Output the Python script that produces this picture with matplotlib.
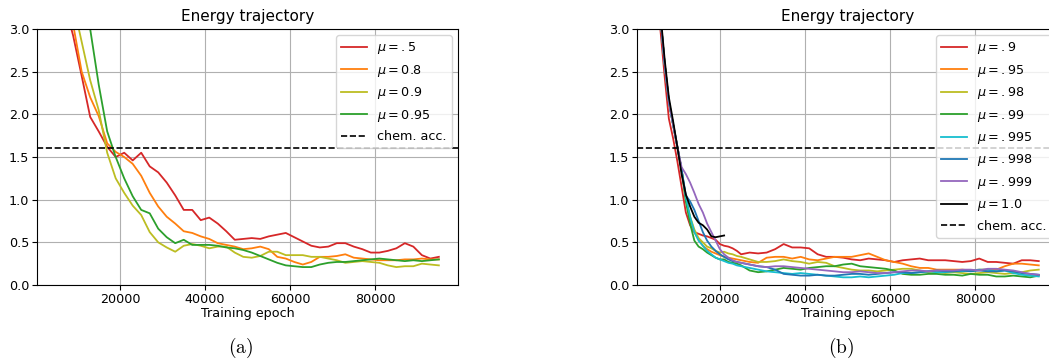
import numpy as np
import matplotlib
matplotlib.use('Agg')
import matplotlib.pyplot as plt


chem_acc = 1.6

# ---- panel (a) ----
epochs_a = list(range(5000, 95001, 2000))
labels_a = [r'$\mu=.5$', r'$\mu=0.8$', r'$\mu=0.9$', r'$\mu=0.95$']
colors_a = ['tab:red', 'tab:orange', 'tab:olive', 'tab:green']

mu_05 = [4.0, 3.3, 2.92, 2.45, 1.97, 1.80, 1.62, 1.50, 1.55, 1.46,
         1.55, 1.39, 1.32, 1.20, 1.05, 0.88, 0.88, 0.76, 0.79, 0.72,
         0.63, 0.53, 0.54, 0.55, 0.54, 0.57, 0.59, 0.61, 0.56, 0.51,
         0.46, 0.44, 0.45, 0.49, 0.49, 0.45, 0.42, 0.38, 0.38, 0.40,
         0.43, 0.49, 0.45, 0.35, 0.31, 0.33]
mu_08 = [4.2, 3.6, 3.05, 2.50, 2.20, 1.98, 1.66, 1.56, 1.50, 1.42,
         1.28, 1.08, 0.92, 0.80, 0.72, 0.63, 0.61, 0.57, 0.54, 0.49,
         0.47, 0.45, 0.42, 0.43, 0.45, 0.42, 0.33, 0.31, 0.27, 0.24,
         0.27, 0.33, 0.33, 0.34, 0.36, 0.32, 0.31, 0.30, 0.29, 0.29,
         0.29, 0.30, 0.30, 0.31, 0.30, 0.30]
mu_09 = [4.6, 3.9, 3.3, 2.85, 2.40, 2.05, 1.55, 1.25, 1.08, 0.93,
         0.82, 0.62, 0.50, 0.44, 0.39, 0.46, 0.48, 0.46, 0.43, 0.45,
         0.45, 0.38, 0.33, 0.32, 0.34, 0.39, 0.39, 0.35, 0.35, 0.35,
         0.33, 0.33, 0.31, 0.29, 0.26, 0.27, 0.28, 0.27, 0.26, 0.23,
         0.21, 0.22, 0.22, 0.25, 0.24, 0.23]
mu_095 = [5.0, 4.3, 3.7, 3.3, 3.0, 2.35, 1.80, 1.50, 1.25, 1.04,
          0.88, 0.84, 0.66, 0.56, 0.49, 0.53, 0.47, 0.47, 0.47, 0.46,
          0.44, 0.43, 0.41, 0.38, 0.34, 0.30, 0.26, 0.23, 0.22, 0.21,
          0.21, 0.24, 0.26, 0.27, 0.27, 0.28, 0.29, 0.30, 0.31, 0.30,
          0.29, 0.28, 0.29, 0.28, 0.29, 0.30]

# ---- panel (b) ----
epochs_b = list(range(5000, 25001, 1000)) + list(range(27000, 95001, 2000))
epochs_b_full = list(range(5000, 21001, 1000))
labels_b = [r'$\mu=.9$', r'$\mu=.95$', r'$\mu=.98$', r'$\mu=.99$',
            r'$\mu=.995$', r'$\mu=.998$', r'$\mu=.999$']
colors_b = ['tab:red', 'tab:orange', 'tab:olive', 'tab:green',
            'tab:cyan', 'tab:blue', 'tab:purple']

mu_09b = [3.5, 3.0, 2.45, 1.95, 1.72, 1.45, 1.15,
          0.85, 0.70, 0.62, 0.60, 0.58, 0.57, 0.55, 0.53, 0.48, 0.46, 0.45, 0.43, 0.40, 0.36,
          0.38, 0.37, 0.38, 0.42, 0.48, 0.44, 0.44, 0.43, 0.36, 0.33, 0.33, 0.32, 0.30, 0.29,
          0.31, 0.30, 0.29, 0.27, 0.29, 0.30, 0.31, 0.29, 0.29, 0.29, 0.28, 0.27, 0.28, 0.31,
          0.27, 0.27, 0.26, 0.25, 0.29, 0.29, 0.28]
mu_095b = [3.6, 3.15, 2.6, 2.15, 1.88, 1.62, 1.35,
           1.00, 0.78, 0.62, 0.53, 0.46, 0.42, 0.39, 0.37, 0.35, 0.33, 0.32, 0.31, 0.30, 0.29,
           0.27, 0.26, 0.32, 0.33, 0.33, 0.31, 0.33, 0.30, 0.29, 0.31, 0.33, 0.33, 0.33, 0.35,
           0.37, 0.33, 0.29, 0.27, 0.25, 0.22, 0.20, 0.20, 0.18, 0.18, 0.18, 0.18, 0.17, 0.18,
           0.18, 0.18, 0.22, 0.25, 0.25, 0.24, 0.23]
mu_098b = [3.6, 3.15, 2.6, 2.15, 1.88, 1.62, 1.35,
           1.02, 0.80, 0.65, 0.55, 0.50, 0.45, 0.43, 0.40, 0.38, 0.39, 0.37, 0.36, 0.34, 0.33,
           0.30, 0.27, 0.27, 0.28, 0.30, 0.28, 0.27, 0.25, 0.27, 0.26, 0.22, 0.20, 0.18, 0.17,
           0.17, 0.16, 0.17, 0.18, 0.19, 0.19, 0.17, 0.15, 0.15, 0.14, 0.15, 0.14, 0.13, 0.14,
           0.15, 0.14, 0.13, 0.14, 0.15, 0.17, 0.18]
mu_099b = [3.6, 3.15, 2.6, 2.15, 1.88, 1.62, 1.35,
           0.98, 0.72, 0.52, 0.45, 0.42, 0.38, 0.35, 0.32, 0.30, 0.30, 0.27, 0.26, 0.25, 0.23,
           0.17, 0.15, 0.16, 0.18, 0.20, 0.19, 0.18, 0.20, 0.21, 0.22, 0.22, 0.24, 0.25, 0.22,
           0.21, 0.20, 0.19, 0.17, 0.13, 0.12, 0.12, 0.13, 0.13, 0.12, 0.12, 0.11, 0.13, 0.12,
           0.12, 0.10, 0.10, 0.11, 0.10, 0.09, 0.11]
mu_0995b = [3.6, 3.15, 2.6, 2.15, 1.88, 1.62, 1.35,
            1.03, 0.80, 0.62, 0.52, 0.46, 0.40, 0.36, 0.32, 0.30, 0.28, 0.26, 0.25, 0.23, 0.22,
            0.20, 0.18, 0.16, 0.15, 0.14, 0.13, 0.14, 0.13, 0.12, 0.11, 0.10, 0.09, 0.09, 0.10,
            0.09, 0.10, 0.11, 0.12, 0.14, 0.14, 0.15, 0.16, 0.15, 0.15, 0.16, 0.16, 0.17, 0.18,
            0.18, 0.16, 0.17, 0.14, 0.12, 0.11, 0.10]
mu_0998b = [3.6, 3.15, 2.6, 2.15, 1.88, 1.62, 1.35,
            1.05, 0.98, 0.88, 0.75, 0.62, 0.52, 0.45, 0.40, 0.36, 0.33, 0.30, 0.28, 0.27, 0.26,
            0.24, 0.22, 0.21, 0.18, 0.13, 0.12, 0.11, 0.11, 0.12, 0.11, 0.11, 0.12, 0.13, 0.13,
            0.12, 0.13, 0.14, 0.15, 0.15, 0.14, 0.15, 0.16, 0.17, 0.16, 0.16, 0.17, 0.16, 0.17,
            0.16, 0.16, 0.17, 0.16, 0.14, 0.13, 0.12]
mu_0999b = [3.6, 3.15, 2.6, 2.15, 1.88, 1.62, 1.38,
            1.30, 1.20, 1.08, 0.95, 0.85, 0.72, 0.62, 0.52, 0.42, 0.36, 0.32, 0.29, 0.27, 0.26,
            0.24, 0.22, 0.21, 0.22, 0.22, 0.21, 0.20, 0.19, 0.18, 0.17, 0.16, 0.15, 0.15, 0.16,
            0.15, 0.14, 0.14, 0.15, 0.16, 0.17, 0.17, 0.16, 0.17, 0.17, 0.17, 0.18, 0.18, 0.17,
            0.19, 0.19, 0.18, 0.17, 0.15, 0.13, 0.12]
mu_1b = [3.6, 3.2, 2.65, 2.2, 1.92, 1.62, 1.30, 1.06, 0.92, 0.80, 0.73, 0.70,
         0.65, 0.57, 0.56, 0.57, 0.58]

FS = 9.2
plt.rcParams['font.size'] = FS


def style_axes(ax):
    ax.axhline(chem_acc, color='k', ls='--', lw=1.2, label='chem. acc.')
    ax.set_ylim(0, 3)
    ax.set_xticks([20000, 40000, 60000, 80000])
    ax.set_yticks([0.0, 0.5, 1.0, 1.5, 2.0, 2.5, 3.0])
    ax.grid(True)
    ax.set_title('Energy trajectory', fontsize=11)
    ax.set_xlabel('Training epoch', fontsize=FS, labelpad=1)
    ax.tick_params(labelsize=FS, length=3.5, pad=2)


fig = plt.figure(figsize=(10.49, 3.62), dpi=100)
ax1 = fig.add_axes([0.0353, 0.2127, 0.4013, 0.7072])
ax2 = fig.add_axes([0.6072, 0.2127, 0.4013, 0.7072])

for y, lab, c in zip([mu_05, mu_08, mu_09, mu_095], labels_a, colors_a):
    ax1.plot(epochs_a, y, color=c, lw=1.3, label=lab)
style_axes(ax1)
ax1.legend(loc='upper right', fontsize=FS, handlelength=2.0)

ys_b = [mu_09b, mu_095b, mu_098b, mu_099b, mu_0995b, mu_0998b, mu_0999b]
for y, lab, c in zip(ys_b, labels_b, colors_b):
    ax2.plot(epochs_b, y, color=c, lw=1.3, label=lab)
ax2.plot(epochs_b_full, mu_1b, color='k', lw=1.3, label=r'$\mu=1.0$')
ax2.set_xlim(ax1.get_xlim())
style_axes(ax2)
ax2.legend(loc='upper right', fontsize=FS, handlelength=2.0)

fig.text(0.229, 0.025, r'$\mathrm{(a)}$', fontsize=14, ha='center', math_fontfamily='cm')
fig.text(0.802, 0.025, r'$\mathrm{(b)}$', fontsize=14, ha='center', math_fontfamily='cm')

plt.savefig('out.png', dpi=100)
